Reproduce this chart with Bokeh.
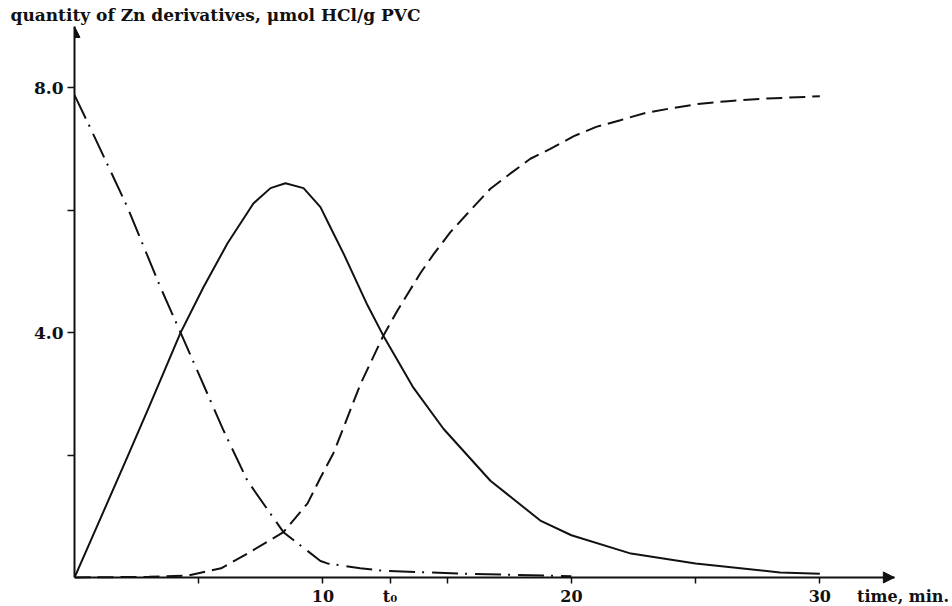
from bokeh.plotting import figure
from bokeh.models import FixedTicker, Arrow, NormalHead, Label
from bokeh.embed import file_html
from bokeh.resources import INLINE

# --- data ---
# solid curve (intermediate Zn derivative)
t_solid = [0, 1.17, 2.13, 2.94, 3.54, 4.27, 5.19, 6.16, 7.2, 7.89, 8.49, 9.22, 9.9,
           10.3, 10.83, 11.79, 12.43, 13.64, 14.85, 16.74, 18.75, 20.0, 22.4, 25.0, 28.4, 30.0]
q_solid = [0, 1.08, 1.97, 2.73, 3.30, 4.0, 4.74, 5.46, 6.11, 6.36, 6.44, 6.36, 6.05,
           5.72, 5.29, 4.45, 3.95, 3.10, 2.43, 1.58, 0.93, 0.69, 0.39, 0.23, 0.08, 0.06]
# dash-dot curve (initial Zn derivative, decreasing)
t_dashdot = [0, 0.64, 2.13, 3.46, 4.27, 6.0, 6.96, 8.41, 9.9, 10.18, 11.5, 12.4, 15.8, 20.0]
q_dashdot = [7.88, 7.34, 6.05, 4.74, 4.0, 2.40, 1.58, 0.74, 0.27, 0.23, 0.15, 0.11, 0.06, 0.02]
# dashed curve (final Zn derivative, increasing)
t_dashed = [0, 3.0, 4.55, 5.9, 6.96, 8.41, 9.38, 9.9, 10.42, 10.83, 11.5, 12.43, 13.0,
            13.92, 14.47, 15.13, 15.94, 16.74, 17.55, 18.35, 19.15, 20.1, 21.0, 21.97,
            23.0, 24.1, 25.2, 26.3, 27.7, 30.0]
q_dashed = [0, 0.01, 0.03, 0.15, 0.39, 0.74, 1.21, 1.63, 2.03, 2.45, 3.15, 3.95, 4.36,
            4.97, 5.29, 5.64, 6.0, 6.35, 6.60, 6.84, 7.00, 7.21, 7.36, 7.47,
            7.59, 7.67, 7.74, 7.78, 7.82, 7.86]

x_ticks = [5, 10, 12.7, 15, 20, 25, 30]
x_tick_labels = ["", "10", "t\u2080", "", "20", "", "30"]
y_ticks = [2, 4, 6, 8]
y_tick_labels = ["", "4.0", "", "8.0"]

y_title = "quantity of Zn derivatives, \u03bcmol HCl/g PVC"
x_title = "time, min."

FONT = "DejaVu Serif"
INK = "#111111"

X_AXIS_END = 33.0
Y_AXIS_END = 9.0

p = figure(width=952, height=606, x_range=(0, 35.3), y_range=(-0.474, Y_AXIS_END),
           output_backend="svg", toolbar_location=None,
           min_border_left=74, min_border_right=1, min_border_top=2, min_border_bottom=0,
           title=y_title)
p.outline_line_color = None
p.grid.visible = False

p.title.align = "left"
p.title.offset = -64
p.title.text_font = FONT
p.title.text_font_style = "bold"
p.title.text_font_size = "17px"
p.title.text_color = INK
p.title.standoff = 4

# x axis (drawn at y = 0 inside the frame)
xa = p.xaxis[0]
xa.fixed_location = 0
xa.bounds = (0, X_AXIS_END)
xa.ticker = FixedTicker(ticks=x_ticks)
xa.major_label_overrides = {t: l for t, l in zip(x_ticks, x_tick_labels)}
xa.minor_tick_line_color = None
xa.major_tick_in = 0
xa.major_tick_out = 6
xa.major_label_standoff = 4
xa.axis_line_width = 2
xa.major_tick_line_width = 1.5
xa.axis_line_color = INK
xa.major_tick_line_color = INK
xa.major_label_text_font = FONT
xa.major_label_text_font_style = "bold"
xa.major_label_text_font_size = "16px"
xa.major_label_text_color = INK

# y axis
ya = p.yaxis[0]
ya.bounds = (0, Y_AXIS_END)
ya.ticker = FixedTicker(ticks=y_ticks)
ya.major_label_overrides = {t: l for t, l in zip(y_ticks, y_tick_labels)}
ya.minor_tick_line_color = None
ya.major_tick_in = 0
ya.major_tick_out = 7
ya.major_label_standoff = 4
ya.axis_line_width = 2
ya.major_tick_line_width = 1.5
ya.axis_line_color = INK
ya.major_tick_line_color = INK
ya.major_label_text_font = FONT
ya.major_label_text_font_style = "bold"
ya.major_label_text_font_size = "17px"
ya.major_label_text_color = INK

# axis arrow heads
p.add_layout(Arrow(x_start=X_AXIS_END - 1.0, y_start=0, x_end=X_AXIS_END, y_end=0, line_alpha=0,
                   end=NormalHead(size=11, fill_color=INK, line_color=INK)))
p.add_layout(Arrow(x_start=0, y_start=Y_AXIS_END - 0.4, x_end=0, y_end=Y_AXIS_END, line_alpha=0,
                   end=NormalHead(size=11, fill_color=INK, line_color=INK)))

# curves
p.line(t_dashdot, q_dashdot, line_color=INK, line_width=2, line_dash="26 7 2 8")
p.line(t_solid, q_solid, line_color=INK, line_width=2)
p.line(t_dashed, q_dashed, line_color=INK, line_width=2, line_dash="16 7")

p.add_layout(Label(x=31.5, y=0, text=x_title, x_offset=0, y_offset=-10,
                   text_baseline="top", text_align="left", text_font=FONT,
                   text_font_style="bold", text_font_size="16px", text_color=INK))

open("out.html", "w").write(file_html(p, INLINE))
